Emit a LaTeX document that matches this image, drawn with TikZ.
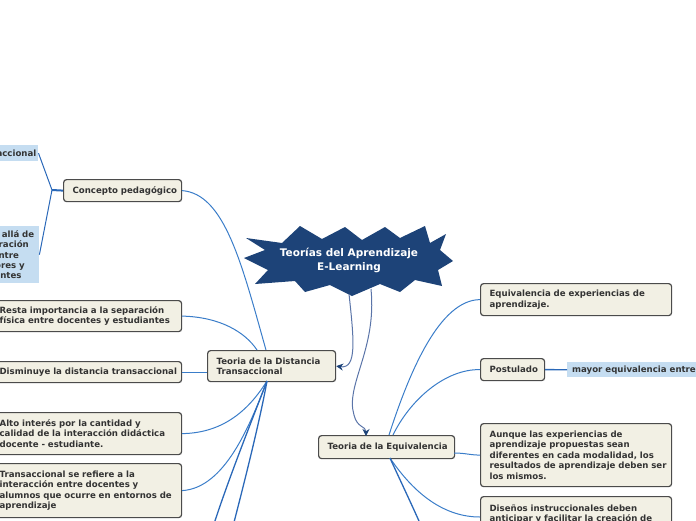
\documentclass[tikz,border=0pt]{standalone}
\usepackage{fontspec}
\setmainfont{DejaVu Sans}
\usetikzlibrary{arrows.meta}
\definecolor{starfill}{HTML}{1D4378}
\definecolor{boxfill}{HTML}{F2F0E4}
\definecolor{boxborder}{HTML}{4B4B4B}
\definecolor{textcol}{HTML}{333333}
\definecolor{bluebox}{HTML}{C5DDF1}
\definecolor{linecol}{HTML}{3A7DC9}
\definecolor{darkline}{HTML}{2A68B8}
\definecolor{arrline}{HTML}{5A74A8}
\newcommand\ml[1]{\mbox{#1}}
\begin{document}
\begin{tikzpicture}[x=1pt,y=-1pt,
  every node/.style={font=\fontsize{8.6}{10.4}\selectfont\bfseries, text=textcol},
  box/.style={draw=boxborder, fill=boxfill, rounded corners=3pt, line width=1.2pt,
    align=left, inner xsep=9pt, inner ysep=0pt, anchor=north west},
  bluenode/.style={fill=bluebox, inner ysep=0pt, align=left},
  conn/.style={draw=linecol, line width=1pt},
  dconn/.style={draw=darkline, line width=1.3pt},
  arr/.style={draw=arrline, line width=1pt, -{Stealth[length=7pt,width=7pt,color=starfill]}}
]
\useasboundingbox (0,0) rectangle (696,520);
\clip (0,0) rectangle (696,520);

% named free ends
\coordinate (j1) at (52,190);
\coordinate (dtop) at (266,350);
\coordinate (dtl) at (257,350);
\coordinate (dbot) at (267,381);
\coordinate (etop) at (366,436);
\coordinate (etop2) at (389,435);
\coordinate (etop3) at (393,435);
\coordinate (eright) at (454,453);
\coordinate (ebot) at (390,458);
\coordinate (dl) at (480,517);
\coordinate (off1) at (212,530);
\coordinate (off2) at (232,530);
\coordinate (off3) at (423,530);
\coordinate (s1) at (349,294);
\coordinate (s2) at (371,289);

% nodes
\node[box, minimum width=118pt, minimum height=22pt, text width=100pt] (concepto) at (63,179) {\ml{Concepto pedagógico}};

% connector Concepto -> Distancia (behind star)
\draw[conn] (concepto.east) .. controls (225,194) and (242,265) .. (dtop);

% star
\fill[starfill] (246,238) -- (282,243) -- (300,226) -- (322,239) -- (345,227) -- (362,240)
  -- (385,227) -- (400,238) -- (425,226) -- (430,243) -- (446,234) -- (440,250)
  -- (453,261) -- (438,270) -- (442,286) -- (415,280) -- (400,292) -- (380,284)
  -- (352,296) -- (330,285) -- (305,292) -- (295,281) -- (255,284) -- (268,270)
  -- (244,258) -- (265,250) -- cycle;
\node[font=\fontsize{10.5}{14}\selectfont\bfseries, text=white, align=center] (title) at (349,260)
  {Teorías del Aprendizaje\\E-Learning};

\node[box, minimum width=128pt, minimum height=31pt, text width=110pt] (dist) at (207,350) {\ml{Teoria de la Distancia}\\\ml{Transaccional}};
\node[box, minimum width=136pt, minimum height=23pt, text width=118pt] (equiv) at (318,435) {\ml{Teoria de la Equivalencia}};

\node[box, minimum width=191pt, minimum height=31pt, text width=173pt] (resta) at (-10,300) {\ml{Resta importancia a la separación}\\\ml{física entre docentes y estudiantes}};
\node[box, minimum width=191pt, minimum height=21pt, text width=173pt] (dismi) at (-10,361) {\ml{Disminuye la distancia transaccional}};
\node[box, minimum width=191pt, minimum height=42pt, text width=173pt] (alto) at (-10,412) {\ml{Alto interés por la cantidad y}\\\ml{calidad de la interacción didáctica}\\\ml{docente - estudiante.}};
\node[box, minimum width=191pt, minimum height=54pt, text width=173pt] (trans) at (-10,463) {\ml{Transaccional se refiere a la}\\\ml{interacción entre docentes y}\\\ml{alumnos que ocurre en entornos de}\\\ml{aprendizaje}};

\node[box, minimum width=191pt, minimum height=32pt, text width=173pt] (eqexp) at (480,283) {\ml{Equivalencia de experiencias de}\\\ml{aprendizaje.}};
\node[box, minimum width=64pt, minimum height=22pt, text width=46pt] (postu) at (480,358) {\ml{Postulado}};
\node[box, minimum width=191pt, minimum height=63pt, text width=173pt] (aunque) at (480,423) {\ml{Aunque las experiencias de}\\\ml{aprendizaje propuestas sean}\\\ml{diferentes en cada modalidad, los}\\\ml{resultados de aprendizaje deben ser}\\\ml{los mismos.}};
\node[box, minimum width=191pt, inner ysep=8pt, text width=173pt] (disenos) at (480,496) {\ml{Diseños instruccionales deben}\\\ml{anticipar y facilitar la creación de}};

\node[bluenode, anchor=north east, minimum height=16pt, inner xsep=2pt] (blue1) at (38.5,145) {Distancia transaccional};
\node[bluenode, anchor=north west, minimum height=57pt, inner xsep=4pt, text width=71pt] (blue2) at (-40,226) {\ml{Va más allá de}\\\ml{la separación}\\\ml{física entre}\\\ml{profesores y}\\\ml{estudiantes}};
\node[bluenode, anchor=north west, minimum height=15pt, inner xsep=5pt] (blue3) at (567,362) {mayor equivalencia entre};

% connectors
\draw[dconn, line width=2pt] (concepto.west) -- (j1);
\draw[conn, draw=darkline] (j1) -- (blue1.east);
\draw[conn, draw=darkline] (j1) -- (blue2.east);

\draw[arr] (s1) .. controls (354,340) and (357,369) .. (dist.east);
\draw[arr] (s2) .. controls (377,350) and (345,385) .. (354,415) .. controls (357,428) and (366,426) .. (etop);

\draw[conn] (resta.east) .. controls (220,317) and (245,332) .. (dtl);
\draw[conn] (dismi.east) -- (dismi.east -| dist.west);
\draw[conn] (alto.east) .. controls (225,433) and (250,408) .. (dbot);
\draw[conn] (trans.east) .. controls (225,488) and (250,425) .. (dbot);
\draw[dconn] (dbot) .. controls (252,420) and (228,480) .. (off1);
\draw[dconn] (dbot) .. controls (260,420) and (245,480) .. (off2);

\draw[conn] (eqexp.west) .. controls (440,300) and (410,370) .. (etop2);
\draw[conn] (postu.west) .. controls (445,369) and (410,400) .. (etop3);
\draw[dconn] (postu.east) -- (blue3.west);
\draw[conn] (eright) .. controls (465,453) and (470,455) .. (aunque.west);
\draw[conn] (ebot) .. controls (415,495) and (445,517) .. (dl);
\draw[dconn] (ebot) .. controls (400,480) and (412,505) .. (off3);
\end{tikzpicture}
\end{document}
